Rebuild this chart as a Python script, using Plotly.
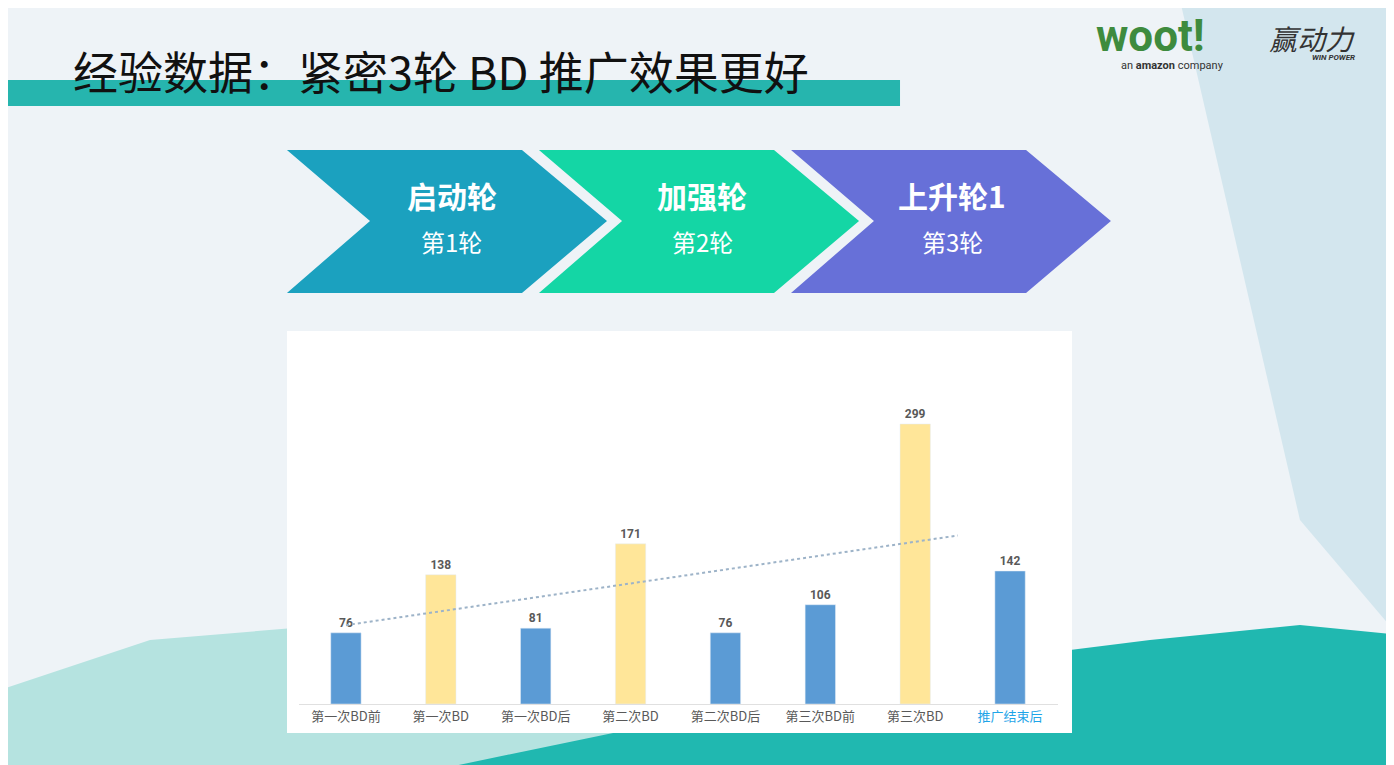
import numpy as np
import plotly.graph_objects as go

W, H = 1394, 765
OFF = 8  # page margin offset in the screenshot

categories = ['第一次BD前', '第一次BD', '第一次BD后', '第二次BD', '第二次BD后', '第三次BD前', '第三次BD', '推广结束后']
values = [76, 138, 81, 171, 76, 106, 299, 142]
bar_colors = ['#5B9BD5', '#FFE699', '#5B9BD5', '#FFE699', '#5B9BD5', '#5B9BD5', '#FFE699', '#5B9BD5']
steps = [('启动轮', '第1轮', '#1BA1BF'), ('加强轮', '第2轮', '#14D6A5'), ('上升轮1', '第3轮', '#6770D8')]

def px(x):
    return (x - OFF) / W

def py(y):
    return 1 - (y - OFF) / H

def path(pts):
    return 'M ' + ' L '.join(f'{px(x):.4f},{py(y):.4f}' for x, y in pts) + ' Z'

xi = np.arange(len(values))
slope, icpt = np.polyfit(xi, values, 1)
tx = np.array([0, 6.45])

fig = go.Figure()
fig.add_trace(go.Bar(x=list(xi), y=values, marker_color=bar_colors, width=0.32,
                     text=[f'<b>{v}</b>' for v in values], textposition='outside', cliponaxis=False,
                     textfont=dict(size=12, color='#595959', family='Roboto')))
fig.add_trace(go.Scatter(x=tx, y=slope * tx + icpt, mode='lines',
                         line=dict(color='#9DB3C8', width=2, dash='dot')))

shapes = []
# background decorations
shapes.append(dict(type='path', path=path([(1180, 0), (1402, 0), (1402, 640), (1300, 520)]),
                   xref='paper', yref='paper', fillcolor='#D3E6EE', line_width=0, layer='below'))
shapes.append(dict(type='path', path=path([(0, 773), (0, 690), (150, 640), (330, 625), (500, 660), (700, 700), (900, 730), (1000, 773)]),
                   xref='paper', yref='paper', fillcolor='#B5E3E0', line_width=0, layer='below'))
shapes.append(dict(type='path', path=path([(420, 773), (700, 715), (950, 665), (1150, 640), (1300, 625), (1402, 635), (1402, 773)]),
                   xref='paper', yref='paper', fillcolor='#20B8B0', line_width=0, layer='below'))
shapes.append(dict(type='path', path=path([(0, 80), (900, 80), (900, 106), (0, 106)]),
                   xref='paper', yref='paper', fillcolor='#26B5AE', line_width=0, layer='below'))
shapes.append(dict(type='rect', x0=px(287), x1=px(1072), y0=py(733), y1=py(331),
                   xref='paper', yref='paper', fillcolor='white', line_width=0, layer='below'))
# chevrons
for i, (a, b, c) in enumerate(steps):
    x0 = 287 + i * 252
    pts = [(x0, 150), (x0 + 235, 150), (x0 + 320, 221), (x0 + 235, 293), (x0, 293), (x0 + 83, 221)]
    shapes.append(dict(type='path', path=path(pts), xref='paper', yref='paper',
                       fillcolor=c, line_width=0, layer='below'))

P = dict(xref='paper', yref='paper', showarrow=False, xanchor='center', yanchor='middle')
annotations = [
    dict(x=px(441), y=py(70), text='经验数据：紧密3轮 BD 推广效果更好',
         font=dict(size=45, color='#111', family='Noto Sans CJK SC'), **P),
    dict(x=px(1150), y=py(36), text='<b>woot!</b>',
         font=dict(size=44, color='#3E8B3E', family='Roboto'), **P),
    dict(x=px(1172), y=py(66), text='an <b>amazon</b> company',
         font=dict(size=11, color='#333', family='Roboto'), **P),
    dict(x=px(1312), y=py(38), text='<i>赢动力</i>',
         font=dict(size=28, color='#333', family='Noto Sans CJK SC'), **P),
    dict(x=px(1333), y=py(58), text='<b><i>WIN POWER</i></b>',
         font=dict(size=8, color='#333', family='Roboto'), **P),
]
for i, (a, b, c) in enumerate(steps):
    cx = 452 + i * 250
    annotations.append(dict(x=px(cx), y=py(195), text=f'<b>{a}</b>',
                            font=dict(size=30, color='white', family='Noto Sans CJK SC'), **P))
    annotations.append(dict(x=px(cx), y=py(241), text=b,
                            font=dict(size=24, color='white', family='Noto Sans CJK SC'), **P))

ticktext = categories[:-1] + [f"<span style='color:#1FA5E8'>{categories[-1]}</span>"]

fig.update_layout(
    width=W, height=H, margin=dict(l=0, r=0, t=0, b=0),
    paper_bgcolor='#EEF3F7', plot_bgcolor='rgba(0,0,0,0)', showlegend=False,
    shapes=shapes, annotations=annotations,
    xaxis=dict(domain=[px(298.5), px(1057.5)], range=[-0.5, 7.5], tickvals=list(xi), ticktext=ticktext,
               showgrid=False, zeroline=False, showline=True, linecolor='#E0E0E0',
               tickfont=dict(size=13, color='#595959', family='Noto Sans CJK SC')),
    yaxis=dict(domain=[py(704), py(335)], range=[0, 394], visible=False),
)
fig.write_html('out.html')
